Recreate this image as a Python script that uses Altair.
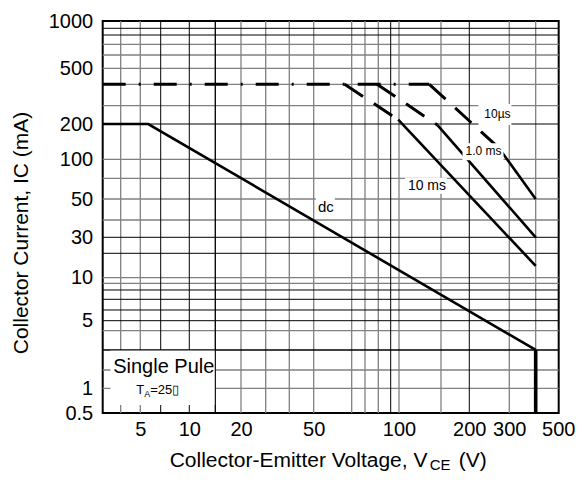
import altair as alt
import pandas as pd

FONT = "Liberation Sans"

# ---- irregular (hand-drawn datasheet) log axes: value breakpoints and their scale range ----
x_breaks = [3, 4, 5, 7, 10, 15, 20, 30, 40, 50, 60, 70, 80, 90, 100, 150, 200, 300, 400, 500]
x_range = [0, 18, 37.6, 58, 86.6, 112.6, 138.3, 163, 186.6, 211, 249, 262.3, 275.6, 288,
           296.3, 338.3, 366.6, 406.6, 433, 455.6]
y_breaks = [0.5, 1, 2, 3, 4, 5, 6, 7, 8, 9, 10, 20, 30, 40, 50, 70, 100, 200, 300, 400,
            500, 600, 700, 800, 900, 1000]
y_range = [392.3, 367.3, 349, 329, 309.7, 299.7, 289, 278.3, 269, 262.3, 256.7, 232.3, 216.3,
           199, 178, 157.3, 138.3, 103, 84.7, 63.3, 47.3, 34, 23.3, 14, 7.3, 0]

x_labels = [5, 10, 20, 50, 100, 200, 300, 500]
y_labels = [0.5, 1, 5, 10, 30, 50, 100, 200, 500, 1000]

# grid lines
x_grid_gray = [4, 5, 20, 30, 40, 50, 60, 70, 80, 100, 150, 300, 400]
x_grid_black = [7, 10, 15, 90, 200]
y_grid_gray = [700, 600, 500, 400, 300, 100, 70, 50, 40, 10, 9, 4, 2, 1]
y_grid_black = [900, 800, 200, 30, 20, 8, 7, 6, 5, 3]

# ---- safe operating area curves (V, mA) ----
dc_v = [3, 5.7, 400]
dc_i = [200, 200, 3]
dc_end_v = [400, 400]
dc_end_i = [3, 0.5]

limit_v = [3, 134]          # pulsed current limit, 400 mA
limit_i = [400, 400]

ms10_dash_v, ms10_dash_i = [58, 99], [400, 220]
ms10_v, ms10_i = [99, 400], [220, 14]
ms1_dash_v, ms1_dash_i = [79, 145], [400, 196]
ms1_v, ms1_i = [145, 400], [196, 30]
us10_dash_v, us10_dash_i = [134, 270], [400, 125]
us10_v, us10_i = [270, 400], [125, 50]

# curve labels
lab_text = ["10\u00b5s", "1.0 ms", "10 ms", "dc"]
lab_v = [266, 231, 131, 53]
lab_i = [250, 117, 62, 46]
lab_size = [12, 12, 14, 15]
lab_box = ["M-19,-10H14V11H-19Z", "M-21,-8H20V9H-21Z", "M-22,-8H20V8H-22Z", "M-10,-9H9V8H-10Z"]


def rows(name, vs, iss):
    return [{"curve": name, "v": v, "i": i, "o": k} for k, (v, i) in enumerate(zip(vs, iss))]


solid_df = pd.DataFrame(rows("dc", dc_v, dc_i) + rows("10ms", ms10_v, ms10_i)
                        + rows("1ms", ms1_v, ms1_i) + rows("10us", us10_v, us10_i))
dash_df = pd.DataFrame(rows("10ms", ms10_dash_v, ms10_dash_i) + rows("1ms", ms1_dash_v, ms1_dash_i)
                       + rows("10us", us10_dash_v, us10_dash_i))
limit_df = pd.DataFrame(rows("lim", limit_v, limit_i))
dcend_df = pd.DataFrame(rows("dcend", dc_end_v, dc_end_i))
lab_df = pd.DataFrame({"t": lab_text, "v": lab_v, "i": lab_i, "s": lab_size, "box": lab_box})

xs = alt.Scale(type="log", domain=x_breaks, range=x_range, nice=False)
ys = alt.Scale(type="log", domain=y_breaks, range=y_range, nice=False)

X = alt.X("v:Q", scale=xs, axis=alt.Axis(
    values=x_labels, format="~g", title=None, labelFontSize=20, labelFont=FONT,
    labelColor="black", labelPadding=7, labelFlush=False, labelOverlap=False, labelBound=False))
Y = alt.Y("i:Q", scale=ys, axis=alt.Axis(
    values=y_labels, format="~g", title=None, labelFontSize=20, labelFont=FONT,
    labelColor="black", labelPadding=10, labelFlush=False, labelOverlap=False, labelBound=False))


def vrules(vals, color, w):
    return alt.Chart(pd.DataFrame({"v": vals})).mark_rule(color=color, strokeWidth=w).encode(
        x=alt.X("v:Q", scale=xs))


def hrules(vals, color, w):
    return alt.Chart(pd.DataFrame({"i": vals})).mark_rule(color=color, strokeWidth=w).encode(
        y=alt.Y("i:Q", scale=ys))


grid = [vrules(x_grid_gray, "#808080", 1.3), hrules(y_grid_gray, "#808080", 1.3),
        vrules(x_grid_black, "black", 1), hrules(y_grid_black, "black", 1)]

# "Single Pule" box
box_df = pd.DataFrame({"v": [3.4], "v2": [15], "i": [0.63], "i2": [3]})
legend_box = alt.Chart(box_df).mark_rect(color="white").encode(
    x=alt.X("v:Q", scale=xs), x2="v2", y=alt.Y("i:Q", scale=ys), y2="i2")
box_edges = [vrules([15], "black", 1), hrules([3], "black", 1)]

solid = alt.Chart(solid_df).mark_line(color="black", strokeWidth=2.6).encode(
    x=X, y=Y, detail="curve:N", order="o:Q")
dashed = alt.Chart(dash_df).mark_line(color="black", strokeWidth=3, strokeDash=[22, 13]).encode(
    x=alt.X("v:Q", scale=xs), y=alt.Y("i:Q", scale=ys), detail="curve:N", order="o:Q")
limit = alt.Chart(limit_df).mark_line(color="black", strokeWidth=3, strokeDash=[23, 13, 2, 13]).encode(
    x=alt.X("v:Q", scale=xs), y=alt.Y("i:Q", scale=ys), order="o:Q")
dcend = alt.Chart(dcend_df).mark_line(color="black", strokeWidth=3.6).encode(
    x=alt.X("v:Q", scale=xs), y=alt.Y("i:Q", scale=ys), order="o:Q")

boxes = alt.Chart(lab_df).mark_point(filled=True, fill="white", opacity=1, strokeWidth=0).encode(
    x=alt.X("v:Q", scale=xs), y=alt.Y("i:Q", scale=ys),
    shape=alt.Shape("box:N", scale=None), size=alt.value(4))
labels = alt.Chart(lab_df).mark_text(font=FONT, color="black", align="center", baseline="middle").encode(
    x=alt.X("v:Q", scale=xs), y=alt.Y("i:Q", scale=ys), text="t:N",
    size=alt.Size("s:Q", scale=None))

one = pd.DataFrame({"a": [0]})


def txt(text, x, y, size, align="left", angle=0):
    kw = dict(font=FONT, fontSize=size, color="black", align=align, baseline="middle", text=text)
    if angle:
        kw["angle"] = angle
    return alt.Chart(one).mark_text(**kw).encode(x=alt.value(x), y=alt.value(y))


annot = [
    txt("Single Pule", 10.5, 346, 20),
    txt("T", 33.5, 369, 13),
    txt("A", 41.5, 373, 9),
    txt("=25\u25af", 47.5, 369, 13),
    # x title with subscript
    txt("Collector-Emitter Voltage, V", 67, 440, 21),
    txt("CE", 327, 444, 15),
    txt("(V)", 356, 440, 21),
    # y title
    txt("Collector Current, IC (mA)", -81, 212, 21, align="center", angle=270),
]

chart = alt.layer(*grid, legend_box, *box_edges, solid, dashed, limit, dcend, boxes, labels, *annot).properties(
    width=456, height=392,
    autosize=alt.AutoSizeParams(type="none"),
    padding={"left": 94.7, "top": 13, "right": 20, "bottom": 59},
    background="white",
).configure_view(stroke="black", strokeWidth=2).configure_axis(
    grid=False, domain=False, ticks=False)

chart.save("out.html", embed_options={"renderer": "svg", "actions": False})
